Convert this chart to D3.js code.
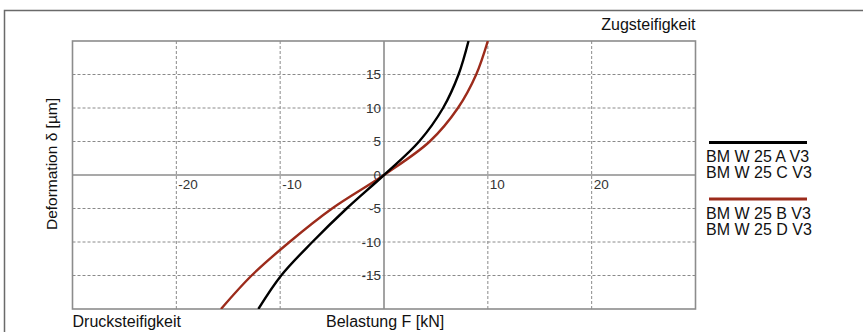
<!DOCTYPE html>
<html><head><meta charset="utf-8">
<script src="https://cdn.jsdelivr.net/npm/d3@7"></script>
<style>
body{margin:0;background:#fff;}
text{font-family:"Liberation Sans",Arial,Helvetica,sans-serif;}
</style></head>
<body><svg id="chart" width="863" height="332"></svg>
<script>
// ---- data ----
const deformation = [-20, -15, -10, -5, 0, 5, 10, 15, 20];          // δ [µm]
const forceAC = [-12.1, -9.9, -6.9, -3.6, 0, 3.38, 5.69, 7.18, 8.14]; // F [kN]
const forceBD = [-15.7, -12.75, -9.1, -5.0, 0, 4.4, 7.12, 8.88, 10.0];
const xGrid = [-20, -10, 10, 20];
const yGrid = [-15, -10, -5, 5, 10, 15];
const xTickLabels = [-20, -10, 10, 20];
const yTickLabels = [-15, -10, -5, 0, 5, 10, 15];
const legendA = ["BM W 25 A V3", "BM W 25 C V3"];
const legendB = ["BM W 25 B V3", "BM W 25 D V3"];
const colorAC = "#000000", colorBD = "#9c2b1b";

const svg = d3.select("#chart");
const L = 72.5, R = 695.5, T = 41, B = 309;
const x = d3.scaleLinear().domain([-30, 30]).range([L, R]);
const y = d3.scaleLinear().domain([-20, 20]).range([B, T]);

// outer frame
svg.append("path").attr("d", `M4.5,332 V10.5 H863`).attr("fill", "none")
  .attr("stroke", "#6a6a6a").attr("stroke-width", 1.5);

// grid
const g = svg.append("g");
g.selectAll(".vx").data(xGrid).join("line")
  .attr("x1", d => x(d)).attr("x2", d => x(d)).attr("y1", T).attr("y2", B)
  .attr("stroke", "#8a8a8a").attr("stroke-width", 1).attr("stroke-dasharray", "3,2");
g.selectAll(".hy").data(yGrid).join("line")
  .attr("y1", d => y(d)).attr("y2", d => y(d)).attr("x1", L).attr("x2", R)
  .attr("stroke", "#8a8a8a").attr("stroke-width", 1).attr("stroke-dasharray", "3,2");

// zero axes
svg.append("line").attr("x1", x(0)).attr("x2", x(0)).attr("y1", T).attr("y2", B)
  .attr("stroke", "#8c8c8c").attr("stroke-width", 1.6);
svg.append("line").attr("x1", L).attr("x2", R).attr("y1", y(0)).attr("y2", y(0))
  .attr("stroke", "#8c8c8c").attr("stroke-width", 1.6);

// plot border
svg.append("rect").attr("x", L).attr("y", T).attr("width", R - L).attr("height", B - T)
  .attr("fill", "none").attr("stroke", "#8c8c8c").attr("stroke-width", 1.6);

// tick labels
svg.selectAll(".xl").data(xTickLabels).join("text")
  .attr("x", d => x(d) + 2).attr("y", y(0) + 14)
  .attr("font-size", 13.5).attr("fill", "#333").text(d => d);
svg.selectAll(".yl").data(yTickLabels).join("text")
  .attr("x", x(0) - 3).attr("y", d => y(d)).attr("dy", "0.36em")
  .attr("text-anchor", "end").attr("font-size", 13.5).attr("fill", "#333").text(d => d);

// curves
svg.append("clipPath").attr("id", "clip").append("rect")
  .attr("x", L).attr("y", T).attr("width", R - L).attr("height", B - T);
const line = d3.line().x(d => x(d[0])).y(d => y(d[1])).curve(d3.curveCatmullRom.alpha(0.5));
const cg = svg.append("g").attr("clip-path", "url(#clip)");
cg.append("path").datum(forceBD.map((f, i) => [f, deformation[i]])).attr("d", line)
  .attr("fill", "none").attr("stroke", colorBD).attr("stroke-width", 2.4);
cg.append("path").datum(forceAC.map((f, i) => [f, deformation[i]])).attr("d", line)
  .attr("fill", "none").attr("stroke", colorAC).attr("stroke-width", 2.4);

// axis titles
svg.append("text").attr("x", R).attr("y", 30).attr("text-anchor", "end")
  .attr("font-size", 16).attr("fill", "#111").text("Zugsteifigkeit");
svg.append("text").attr("x", L).attr("y", 327)
  .attr("font-size", 16).attr("fill", "#111").text("Drucksteifigkeit");
svg.append("text").attr("x", 326).attr("y", 327)
  .attr("font-size", 16).attr("fill", "#111").text("Belastung F [kN]");
svg.append("text").attr("transform", "translate(57,164) rotate(-90)")
  .attr("text-anchor", "middle").attr("font-size", 15.5).attr("fill", "#111")
  .text("Deformation δ [µm]");

// legend
const lx1 = 709, lx2 = 807;
svg.append("line").attr("x1", lx1).attr("x2", lx2).attr("y1", 142.5).attr("y2", 142.5)
  .attr("stroke", colorAC).attr("stroke-width", 3);
svg.selectAll(".la").data(legendA).join("text")
  .attr("x", 706).attr("y", (d, i) => 162 + i * 16)
  .attr("font-size", 16).attr("fill", "#111").text(d => d);
svg.append("line").attr("x1", lx1).attr("x2", lx2).attr("y1", 199).attr("y2", 199)
  .attr("stroke", colorBD).attr("stroke-width", 3);
svg.selectAll(".lb").data(legendB).join("text")
  .attr("x", 706).attr("y", (d, i) => 219 + i * 15.5)
  .attr("font-size", 16).attr("fill", "#111").text(d => d);
</script></body></html>
